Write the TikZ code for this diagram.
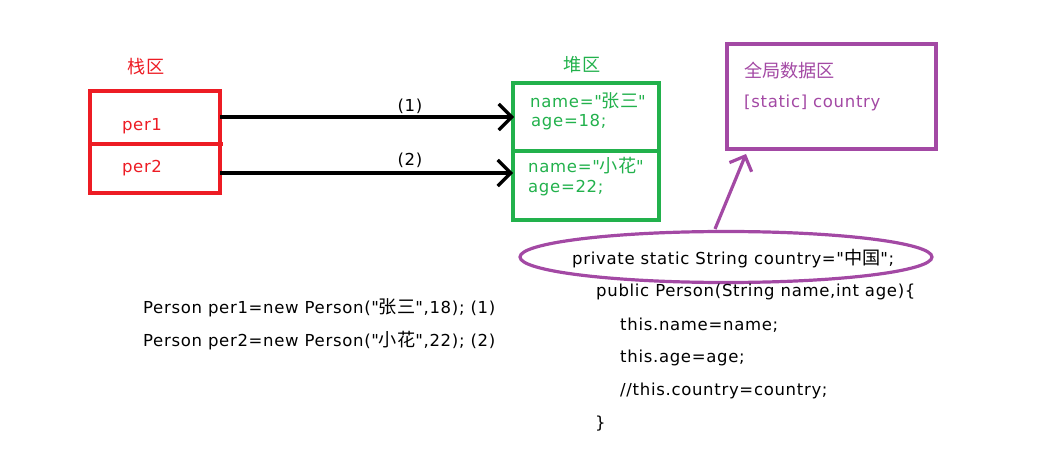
\documentclass[tikz,border=0pt]{standalone}
\usepackage{fontspec}
\setmainfont{DejaVu Sans}[Ligatures=TeXOff, LetterSpace=4.2]
\newfontfamily\cjk{Noto Sans CJK SC}[Scale=1.1]
\newcommand{\q}{\symbol{34}}
\usetikzlibrary{arrows.meta,shapes.geometric}
\definecolor{cred}{RGB}{237,28,36}
\definecolor{cgreen}{RGB}{34,177,76}
\definecolor{cpurp}{RGB}{163,73,164}
\tikzset{
  box/.style={draw, line width=3.2pt},
  txt/.style={font=\fontsize{16.5}{18}\selectfont, inner sep=0pt, anchor=west},
  arr/.style={line width=3.2pt, -{Straight Barb[length=13pt,width=26pt,line width=3.2pt]}},
}
\begin{document}
\begin{tikzpicture}[x=1pt,y=-1pt]
\useasboundingbox (0,0) rectangle (1061,457);
% stack
\node[txt, text=cred, anchor=center] (stk) at (146,67) {\cjk 栈区};
\draw[box, cred] (90,91) rectangle (220,193);
\draw[box, cred] (90,144) -- (223,144);
\node[txt, text=cred, anchor=center] (p1) at (142,126) {per1};
\node[txt, text=cred, anchor=center] (p2) at (142,168) {per2};
\coordinate (s1) at (220,117);
\coordinate (s2) at (220,173);
% heap
\node[txt, text=cgreen, anchor=center] (heap) at (582,65) {\cjk 堆区};
\draw[box, cgreen] (513,83) rectangle (659,220);
\draw[box, cgreen] (513,151) -- (659,151);
\node[txt, text=cgreen] (h1) at (530,101) {name=\q{\cjk 张三}\q};
\node[txt, text=cgreen] (h2) at (531,122) {age=18;};
\node[txt, text=cgreen] (h3) at (528,166) {name=\q{\cjk 小花}\q};
\node[txt, text=cgreen] (h4) at (528,188) {age=22;};
\coordinate (t1) at (514,117);
\coordinate (t2) at (513,173);
\draw[arr] (s1) -- (t1);
\draw[arr] (s2) -- (t2);
\node[txt, anchor=center] (l1) at (410,106) {(1)};
\node[txt, anchor=center] (l2) at (410,160) {(2)};
% global
\node[box, cpurp, minimum width=209pt, minimum height=105pt, inner sep=0pt] (glob) at (831.5,96.5) {};
\node[txt, text=cpurp] (g1) at (744,71) {\cjk 全局数据区};
\node[txt, text=cpurp] (g2) at (744,103) {[static] country};
% ellipse + code
\node[draw=cpurp, line width=3.2pt, ellipse, minimum width=412pt, minimum height=51pt, inner sep=0pt] (ell) at (726,257) {};
\coordinate (ea) at (715,229);
\coordinate (gb) at (746,154);
\draw[cpurp, line width=3.2pt, -{Straight Barb[length=12pt,width=24pt,line width=3.2pt]}] (ea) -- (gb);
\node[txt] (c1) at (572,259) {private static String country=\q{\cjk 中国}\q;};
\node[txt] (c2) at (596,292) {public Person(String name,int age)\{};
\node[txt] (c3) at (620,325) {this.name=name;};
\node[txt] (c4) at (620,358) {this.age=age;};
\node[txt] (c5) at (620,391) {//this.country=country;};
\node[txt] (c6) at (595,424) {\}};
\node[txt] (m1) at (143,308) {Person per1=new Person(\q{\cjk 张三}\q,18); (1)};
\node[txt] (m2) at (143,341) {Person per2=new Person(\q{\cjk 小花}\q,22); (2)};
\end{tikzpicture}
\end{document}
